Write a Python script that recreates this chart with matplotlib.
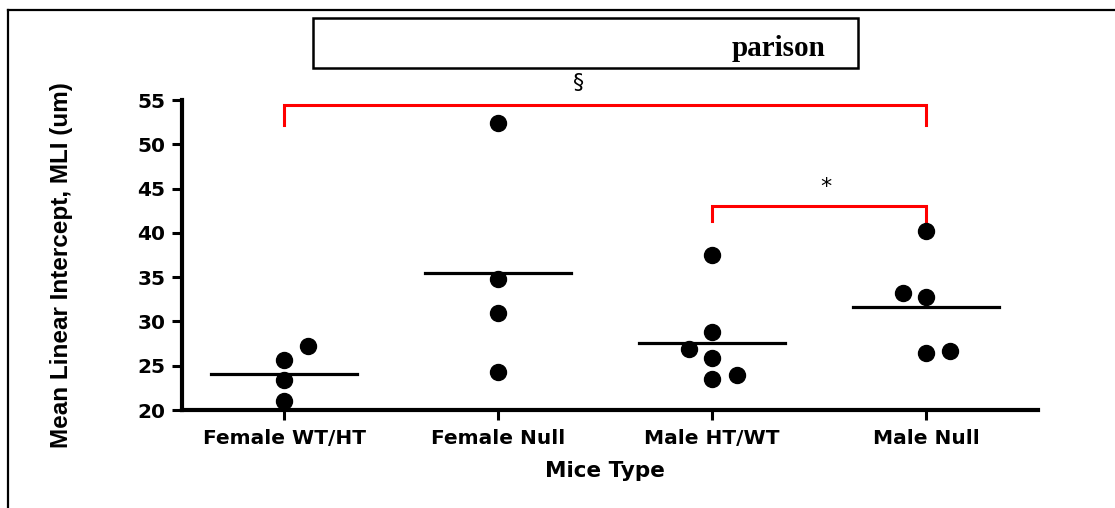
import matplotlib
matplotlib.use("Agg")
import matplotlib.pyplot as plt
from matplotlib.lines import Line2D
from matplotlib.patches import Rectangle

# ---- data ----
groups = ["Female WT/HT", "Female Null", "Male HT/WT", "Male Null"]
female_wt_ht = [25.6, 23.4, 21.0, 27.2]
female_null = [52.4, 34.8, 31.0, 24.3]
male_ht_wt = [37.5, 28.8, 26.9, 25.9, 23.5, 24.0]
male_null = [40.2, 33.2, 32.8, 26.4, 26.7]
group_means = [24.1, 35.5, 27.6, 31.6]
yticks = [20, 25, 30, 35, 40, 45, 50, 55]
# horizontal jitter of points (category units)
jit_fwt = [0, 0, 0, 0.11]
jit_fnull = [0, 0, 0, 0]
jit_mht = [0, 0, -0.11, 0, 0, 0.115]
jit_mnull = [0, -0.11, 0, 0, 0.11]
comparisons = [(0, 3, "\u00a7"), (2, 3, "*")]
title_text = "parison"

series = [female_wt_ht, female_null, male_ht_wt, male_null]
jitters = [jit_fwt, jit_fnull, jit_mht, jit_mnull]

fig = plt.figure(figsize=(11.15, 5.08), dpi=100)
ax = fig.add_axes([182/1115, 1-410/508, (1038-182)/1115, 310/508])

for i, (vals, jit) in enumerate(zip(series, jitters)):
    xs = [i + j for j in jit]
    ax.plot(xs, vals, "o", color="black", markersize=11.5, clip_on=False, zorder=3)
    ax.plot([i - 0.34, i + 0.34], [group_means[i]] * 2, color="black", lw=2.3, zorder=2)

ax.set_xlim(-0.477, 3.523)
ax.set_ylim(20, 55)
ax.set_yticks(yticks)
ax.set_xticks(range(len(groups)))
ax.set_xticklabels(groups)
for s in ["top", "right"]:
    ax.spines[s].set_visible(False)
for s in ["left", "bottom"]:
    ax.spines[s].set_linewidth(3.0)
ax.tick_params(axis="both", width=2.2, length=7, direction="out")
ax.tick_params(axis="y", pad=5)
ax.tick_params(axis="x", pad=7)
for lab in ax.get_yticklabels():
    lab.set_fontfamily("DejaVu Sans")
    lab.set_fontweight("bold")
    lab.set_fontsize(14.5)
for lab in ax.get_xticklabels():
    lab.set_fontfamily("DejaVu Sans")
    lab.set_fontweight("bold")
    lab.set_fontsize(14.5)

ax.set_ylabel("Mean Linear Intercept, MLI (um)", fontsize=17.5, fontweight="bold",
              family="Liberation Sans")
ax.yaxis.set_label_coords((73-182)/856, (410-265)/310)
ax.set_xlabel("Mice Type", fontsize=15.5, fontweight="bold", family="DejaVu Sans")
ax.xaxis.set_label_coords((605-182)/856, (410-461)/310)

# significance brackets
bracket_levels = [(54.4, 52.2, 56.9, 1.374), (43.0, 41.3, 45.2, 2.533)]
for (a, b, sym), (top, drop, ty, tx) in zip(comparisons, bracket_levels):
    ax.plot([a, a, b, b], [drop, top, top, drop], color="red", lw=2.2,
            clip_on=False, solid_joinstyle="miter")
    ax.text(tx, ty, sym, ha="center", va="center", fontsize=16,
            family="DejaVu Sans", clip_on=False)

# title box
fig.patches.append(Rectangle((313/1115, 1-68/508), 545/1115, 50/508, transform=fig.transFigure,
                             facecolor="white", edgecolor="black", lw=1.8))
fig.text(826/1115, 1-48/508, title_text, ha="right", va="center", fontsize=21,
         fontweight="bold", family="Liberation Serif")

# figure frame (top + left)
fig.lines.append(Line2D([8/1115, 1], [1-10/508, 1-10/508], transform=fig.transFigure,
                        color="black", lw=1.6))
fig.lines.append(Line2D([8/1115, 8/1115], [0, 1-10/508], transform=fig.transFigure,
                        color="black", lw=1.6))

fig.savefig("out.png", dpi=100)
